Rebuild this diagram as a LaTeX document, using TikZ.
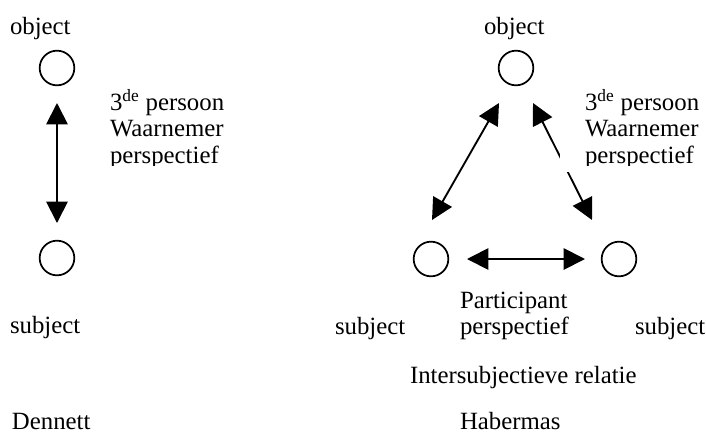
\documentclass[tikz,border=0pt]{standalone}
\usepackage{fontspec}
\setmainfont{Liberation Serif}
\usetikzlibrary{arrows.meta,calc}
\begin{document}
\begin{tikzpicture}[x=0.75pt,y=-0.75pt,
  every node/.style={inner sep=0pt,outer sep=0pt,font=\fontsize{18.6}{20}\selectfont},
  lbl/.style={anchor=base west},
  ring/.style={circle,draw,line width=1.3pt,minimum size=26pt},
  arr/.style={line width=1.4pt,{Triangle[length=16pt,width=16pt]}-{Triangle[length=16pt,width=16pt]}}]
\useasboundingbox (0,0) rectangle (706,433);
% Dennett
\node[ring] (o1) at (57,68) {};
\node[ring] (s1) at (57,258) {};
\node[lbl] (ob1) at (10,34) {object};
\node[lbl] (sb1) at (10,333) {subject};
\node[lbl] (dn) at (12,429) {Dennett};
\draw[arr] ($(o1)+(0,35)$) -- ($(s1)+(0,-35)$);
\begin{scope}
\clip (100,80) rectangle (300,165);
\node[lbl] (t1) at (110,110) {3\textsuperscript{de} persoon};
\node[lbl] (t2) at (110,136) {Waarnemer};
\node[lbl] (t3) at (110,163) {perspectief};
\end{scope}
% Habermas
\node[ring] (o2) at (516,68) {};
\node[ring] (sl) at (431,259) {};
\node[ring] (sr) at (619,259) {};
\node[lbl] (ob2) at (484,34) {object};
\node[lbl] (sb2) at (335,334) {subject};
\node[lbl] (sb3) at (635,334) {subject};
\draw[arr] ($(o2)+(-17,35)$) -- ($(sl)+(1,-39)$);
\draw[arr] ($(o2)+(17,35)$) -- ($(sr)+(-27,-39)$);
\draw[arr] ($(sl)+(36,0)$) -- ($(sr)+(-34,0)$);
\fill[white] (560,80) rectangle (706,172);
\begin{scope}
\clip (560,80) rectangle (706,165);
\node[lbl] (r1) at (585,110) {3\textsuperscript{de} persoon};
\node[lbl] (r2) at (585,136) {Waarnemer};
\node[lbl] (r3) at (585,163) {perspectief};
\end{scope}
\node[lbl] (p1) at (460,308) {Participant};
\node[lbl] (p2) at (460,334) {perspectief};
\node[lbl] (ir) at (410,383) {Intersubjectieve relatie};
\node[lbl] (hb) at (460,429) {Habermas};
\end{tikzpicture}
\end{document}
